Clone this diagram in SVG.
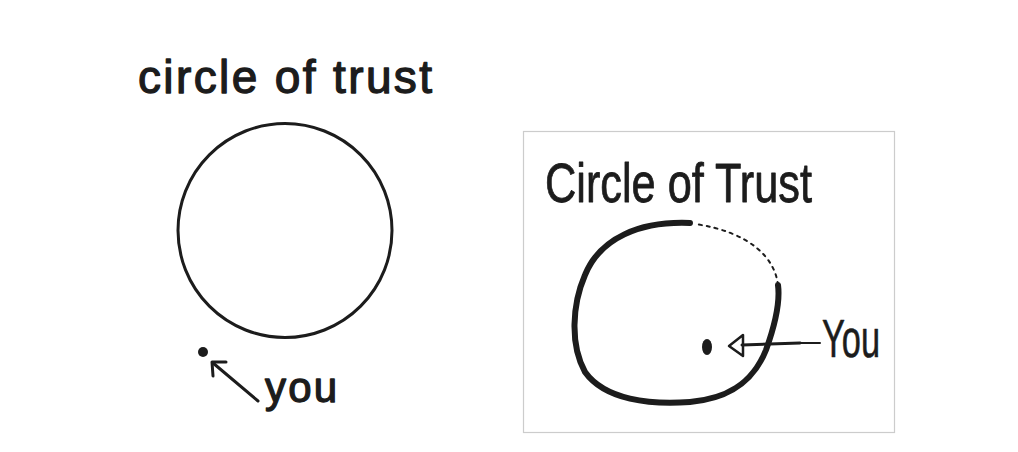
<svg xmlns="http://www.w3.org/2000/svg" width="1018" height="452" viewBox="0 0 1018 452">
<style>
.lbl{font-family:"Liberation Sans","DejaVu Sans",sans-serif;fill:#1c1c1c;stroke:#1c1c1c;stroke-linejoin:round}
.ink{stroke:#1c1c1c;fill:none;stroke-linecap:round;stroke-linejoin:round}
</style>
<rect width="1018" height="452" fill="#ffffff"/>
<g id="left-title"><text class="lbl" x="138" y="93" font-size="46" stroke-width="1.3" textLength="294" lengthAdjust="spacing">circle of trust</text></g>
<g id="left-circle"><circle cx="285" cy="230.5" r="107" class="ink" stroke-width="3"/></g>
<g id="left-you-dot"><circle cx="203" cy="352" r="5" fill="#1c1c1c"/></g>
<g id="left-you-label"><text class="lbl" x="265" y="402" font-size="42" stroke-width="1.3" textLength="72" lengthAdjust="spacing">you</text></g>
<g id="right-frame"><rect x="523.5" y="131.5" width="371" height="301" fill="#ffffff" stroke="#cccccc" stroke-width="1.2"/></g>
<g id="right-title"><text class="lbl" x="545" y="202" font-size="56" stroke-width="0.8" textLength="267" lengthAdjust="spacingAndGlyphs">Circle of Trust</text></g>
<g id="right-circle">
<path class="ink" stroke-width="6" d="M690 223 C640 221,600 238,585 275 C572 305,570 345,585 372 C605 400,650 405,690 402 C725 399,752 385,766 350 C775 325,780 300,778 285"/>
<path class="ink" stroke="#a8a8a8" stroke-width="2" stroke-dasharray="3 5" d="M778 285 C775 258,750 232,695 224"/>
</g>
<g id="right-you-dot"><ellipse cx="707" cy="347" rx="5" ry="8" fill="#1c1c1c"/></g>
<g id="right-you-label"><text class="lbl" x="822" y="357" font-size="54" stroke-width="0.6" textLength="58" lengthAdjust="spacingAndGlyphs">You</text></g>
<g id="connectors">
<line class="ink" x1="258" y1="401" x2="213" y2="363" stroke-width="3"/>
<polyline class="ink" points="226,362 212,362 213,376" stroke-width="3"/>
<line class="ink" x1="800" y1="343" x2="742" y2="345" stroke-width="3"/>
<line class="ink" x1="820" y1="343" x2="800" y2="343" stroke="#b0b0b0" stroke-width="2"/>
<polygon class="ink" points="729,346 743,335 743,356" stroke-width="2.5"/>
</g>
</svg>
